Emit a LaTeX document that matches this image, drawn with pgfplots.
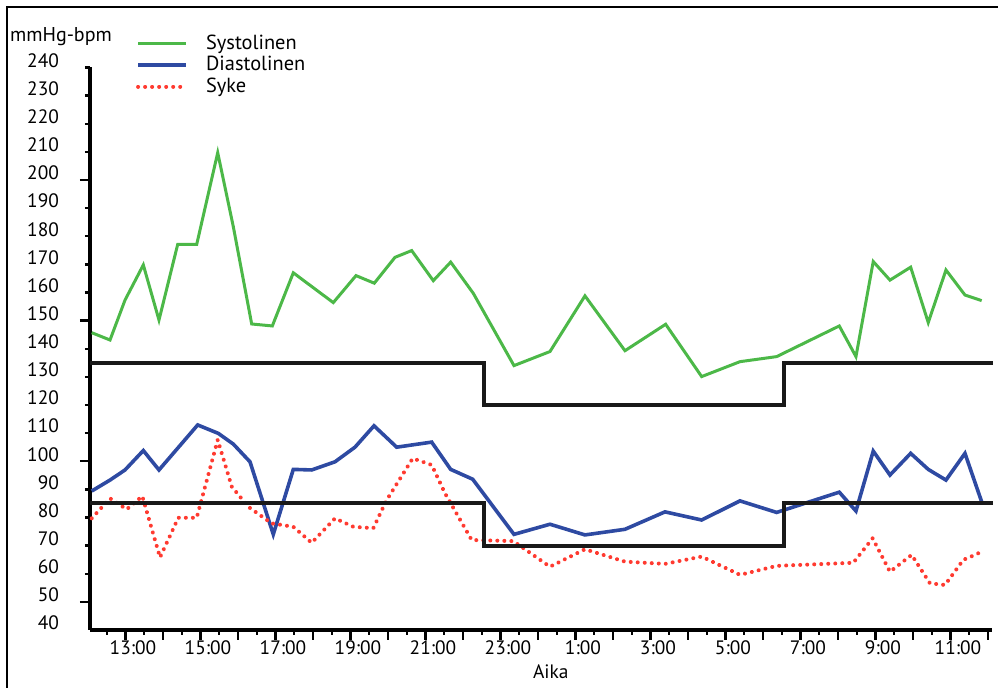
\documentclass[border=0pt]{standalone}
\usepackage{pgfplots}
\pgfplotsset{compat=1.18}
\usepackage{fontspec}
\setmainfont{PT Sans}
\definecolor{sysgreen}{RGB}{76,184,72}
\definecolor{diablue}{RGB}{46,74,162}
\definecolor{sykered}{RGB}{255,58,48}
\begin{document}
\begin{tikzpicture}
\begin{axis}[
  scale only axis,
  width=450.85pt, height=281.25pt,
  xmin=-0.147, xmax=23.9,
  ymin=40, ymax=240,
  axis x line*=bottom, axis y line*=left,
  axis line style={line width=2pt, black},
  tick align=outside,
  /pgf/number format/assume math mode=true,
  xtick={0.8,1.8,...,23.8}, xticklabels={},
  minor xtick={0.3,1.3,...,23.3},
  ytick={50,100,150,200}, yticklabels={},
  minor ytick={60,70,80,90,110,120,130,140,160,170,180,190,210,220,230,240},
  major tick length=5pt, minor tick length=2.5pt,
  tick style={line width=1.2pt, black},
  extra x ticks={1,3,...,23},
  extra x tick labels={13:00,15:00,17:00,19:00,21:00,23:00,1:00,3:00,5:00,7:00,9:00,11:00},
  extra x tick style={major tick length=0pt},
  extra y ticks={40,50,...,240},
  extra y tick style={major tick length=0pt},
  ticklabel style={font=\fontsize{9.7}{11}\selectfont},
  yticklabel style={xshift=-12pt, yshift=3.5pt},
  xticklabel style={yshift=-2pt},
  legend style={at={(rel axis cs:0.044,1.073)}, anchor=north west, draw=none, fill=none,
    font=\fontsize{10.2}{11}\selectfont, row sep=-2pt,
    /tikz/every odd column/.append style={column sep=7pt}},
  legend cell align=left,
  legend image code/.code={\draw[#1] (0pt,0pt) -- (24pt,0pt);},
  clip=false,
]
\addplot[sysgreen, line width=1.5pt] coordinates {
(-0.101,145.7) (0.387,143.1) (0.787,157.3) (1.275,169.8) (1.693,150.2) (2.192,177.1)
(2.699,177.1) (3.259,209.7) (3.675,183.4) (4.165,148.8) (4.715,148.1) (5.275,167.0)
(6.341,156.4) (6.947,166.0) (7.435,163.3) (7.987,172.5) (8.432,174.9) (9.008,164.2)
(9.472,170.8) (10.075,159.7) (11.160,134.0) (12.120,139.0) (13.053,158.8) (14.120,139.3)
(15.205,148.7) (16.165,130.1) (17.187,135.4) (18.165,137.2) (19.835,148.1) (20.280,137.2)
(20.741,171.0) (21.187,164.4) (21.739,169.0) (22.208,149.3) (22.680,168.0) (23.187,159.1)
(23.632,157.1)};
\addlegendentry{Systolinen}
\addplot[diablue, line width=1.8pt] coordinates {
(-0.101,89.4) (0.387,93.3) (0.787,96.9) (1.275,103.8) (1.693,96.9) (2.725,112.9)
(3.275,109.9) (3.675,106.1) (4.120,99.8) (4.741,74.0) (5.275,97.1) (5.765,96.9)
(6.387,99.8) (6.920,105.0) (7.427,112.6) (8.032,105.0) (8.965,106.8) (9.472,97.1)
(10.059,93.6) (11.160,74.0) (12.120,77.6) (13.053,73.8) (14.120,75.8) (15.187,82.0)
(16.165,79.1) (17.187,85.9) (18.165,81.8) (19.835,89.0) (20.280,82.3) (20.741,103.6)
(21.187,95.1) (21.739,102.8) (22.208,97.1) (22.680,93.3) (23.187,102.8) (23.632,85.6)};
\addlegendentry{Diastolinen}
\addplot[sykered, line width=2pt, line cap=round, dash pattern=on 0.01pt off 3.5pt] coordinates {
(-0.101,79.7) (0.387,86.8) (0.832,82.9) (1.248,87.6) (1.720,65.8) (2.208,79.9)
(2.699,79.9) (3.259,107.6) (3.632,91.0) (4.075,83.8) (4.699,77.9) (5.275,76.7)
(5.765,71.0) (6.387,79.7) (6.875,76.7) (7.408,76.2) (7.765,86.2) (8.459,101.0)
(8.965,98.7) (9.320,88.6) (10.032,72.0) (11.141,71.6) (12.120,62.5) (13.053,68.7)
(14.120,64.3) (15.187,63.5) (16.165,66.1) (17.187,59.6) (18.165,62.8) (20.208,63.9)
(20.725,72.6) (21.187,60.7) (21.765,66.7) (22.253,56.6) (22.653,56.0) (23.141,64.9)
(23.632,67.8)};
\addlegendentry{Syke}
\addplot[black!90, line width=2pt, const plot, forget plot] coordinates {
(-0.147,135) (10.36,120) (18.37,135) (23.93,135)};
\addplot[black!90, line width=2pt, const plot, forget plot] coordinates {
(-0.147,85) (10.36,70) (18.37,85) (23.93,85)};
\node[font=\fontsize{10}{12}\selectfont] at (rel axis cs:-0.0322,1.054) {mmHg-bpm};
\node[font=\fontsize{9.7}{11}\selectfont] at (rel axis cs:0.511,-0.0747) {Aika};
\end{axis}
\draw[line width=1pt] (-41.5pt,-29pt) -- (-41.5pt,311.5pt) -- (454pt,311.5pt);
\pgfresetboundingbox
\useasboundingbox (-45pt,-29pt) rectangle (454pt,315pt);
\end{tikzpicture}
\end{document}
